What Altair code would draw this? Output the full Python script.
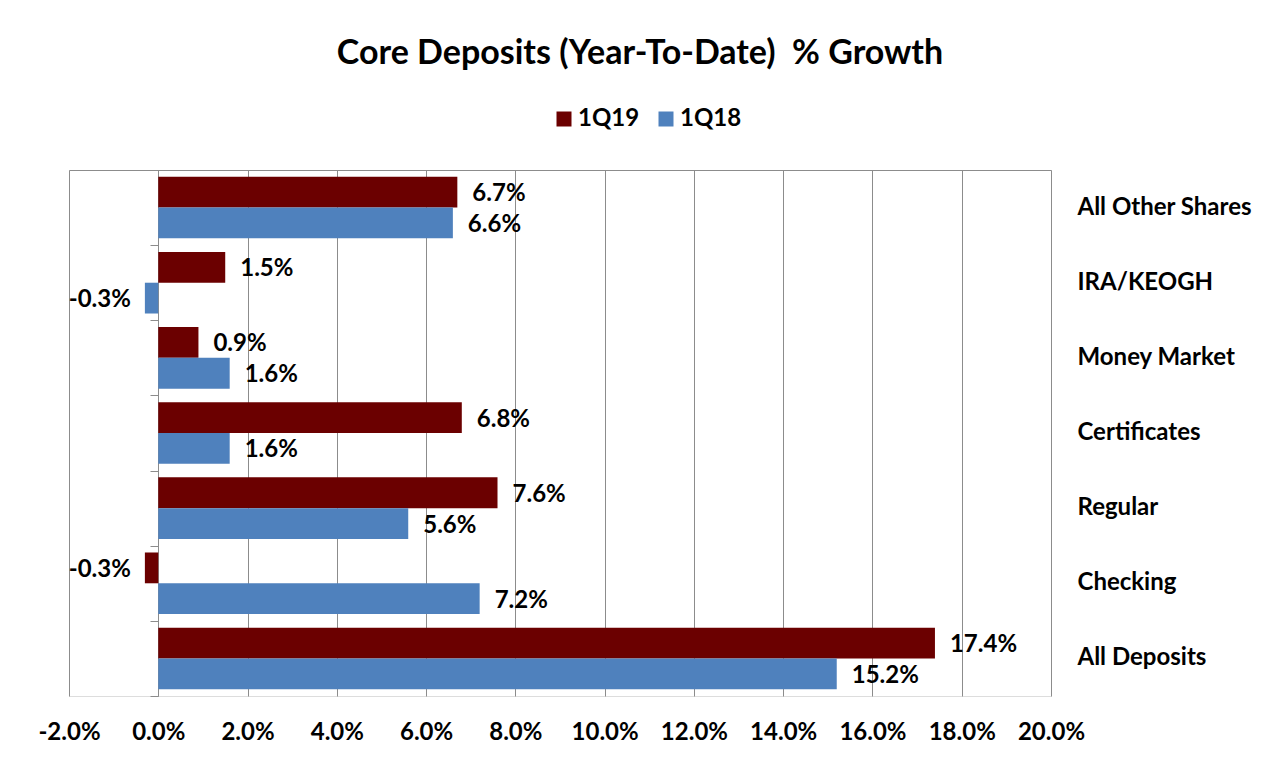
import altair as alt
import pandas as pd

categories = ["All Other Shares", "IRA/KEOGH", "Money Market", "Certificates",
              "Regular", "Checking", "All Deposits"]
series = ["1Q19", "1Q18"]
q1_19 = [6.7, 1.5, 0.9, 6.8, 7.6, -0.3, 17.4]
q1_18 = [6.6, -0.3, 1.6, 1.6, 5.6, 7.2, 15.2]
x_ticks = [-2, 0, 2, 4, 6, 8, 10, 12, 14, 16, 18, 20]
colors = ["#6B0000", "#4F81BD"]

rows = []
for c, a, b in zip(categories, q1_19, q1_18):
    rows.append({"category": c, "series": series[0], "value": a})
    rows.append({"category": c, "series": series[1], "value": b})
df = pd.DataFrame(rows)

FONT = "Lato"
GRID = "#8C8C8C"
W, H = 982, 526
FS = 24

x_scale = alt.Scale(domain=[-2, 20], nice=False, zero=False)
y_scale = alt.Scale(domain=categories, paddingInner=0, paddingOuter=0)
yoff = alt.YOffset("series:N", sort=series,
                   scale=alt.Scale(domain=series, paddingInner=0, paddingOuter=0.22))

base = alt.Chart(df).transform_calculate(
    label="replace(format(datum.value, '.1f'), '\u2212', '-') + '%'"
)

bars = base.mark_bar().encode(
    x=alt.X("value:Q", scale=x_scale, stack=None,
            axis=alt.Axis(values=x_ticks,
                          labelExpr="replace(format(datum.value, '.1f'), '\u2212', '-') + '%'",
                          labelOverlap=False, labelFlush=False,
                          grid=True, gridColor=GRID, gridWidth=1,
                          domain=False, ticks=False,
                          labelFont=FONT, labelFontSize=FS, labelFontWeight="bold",
                          labelColor="black", labelPadding=24, title=None)),
    y=alt.Y("category:N", scale=y_scale, sort=categories,
            axis=alt.Axis(orient="left", offset=-89, labels=False,
                          tickBand="extent", tickSize=8, tickColor=GRID,
                          domainColor=GRID, grid=False, title=None)),
    yOffset=yoff,
    color=alt.Color("series:N", scale=alt.Scale(domain=series, range=colors),
                    legend=alt.Legend(orient="none", legendX=483, legendY=-63,
                                      direction="horizontal", title=None,
                                      symbolType="square", symbolSize=225,
                                      symbolStrokeWidth=0,
                                      labelFont=FONT, labelFontSize=FS,
                                      labelFontWeight="bold", labelColor="black",
                                      columnPadding=14, labelOffset=2)),
)

pos_labels = base.transform_filter("datum.value >= 0").mark_text(
    align="left", baseline="middle", dx=15, dy=2,
    font=FONT, fontSize=FS, fontWeight="bold", color="black"
).encode(
    x=alt.X("value:Q", scale=x_scale,
            axis=alt.Axis(orient="top", labels=False, ticks=False, grid=False,
                          domain=True, domainColor=GRID, title=None)),
    y=alt.Y("category:N", scale=y_scale, sort=categories,
            axis=alt.Axis(orient="right", ticks=False, domain=False, grid=False,
                          labelFont=FONT, labelFontSize=FS, labelFontWeight="bold",
                          labelColor="black", labelAlign="left", labelPadding=26,
                          labelLimit=400, title=None)),
    yOffset=yoff,
    text="label:N",
)

neg_labels = base.transform_filter("datum.value < 0").mark_text(
    align="right", baseline="middle", dx=-14, dy=2,
    font=FONT, fontSize=FS, fontWeight="bold", color="black"
).encode(
    x=alt.X("value:Q", scale=x_scale, axis=None),
    y=alt.Y("category:N", scale=y_scale, sort=categories, axis=None),
    yOffset=yoff,
    text="label:N",
)

chart = alt.layer(bars, pos_labels, neg_labels).resolve_axis(
    x="independent", y="independent"
).properties(
    width=W, height=H,
    autosize=alt.AutoSizeParams(type="none"),
    padding={"left": 61, "top": 162, "right": 205, "bottom": 55},
    title=alt.TitleParams(
        text="Core Deposits (Year-To-Date) \u00a0% Growth",
        font=FONT, fontSize=34, fontWeight="bold", color="black",
        anchor="middle", dx=80, offset=36),
).configure_view(strokeWidth=0).configure(background="white")

chart.save("out.html", embed_options={"renderer": "svg", "actions": False})
